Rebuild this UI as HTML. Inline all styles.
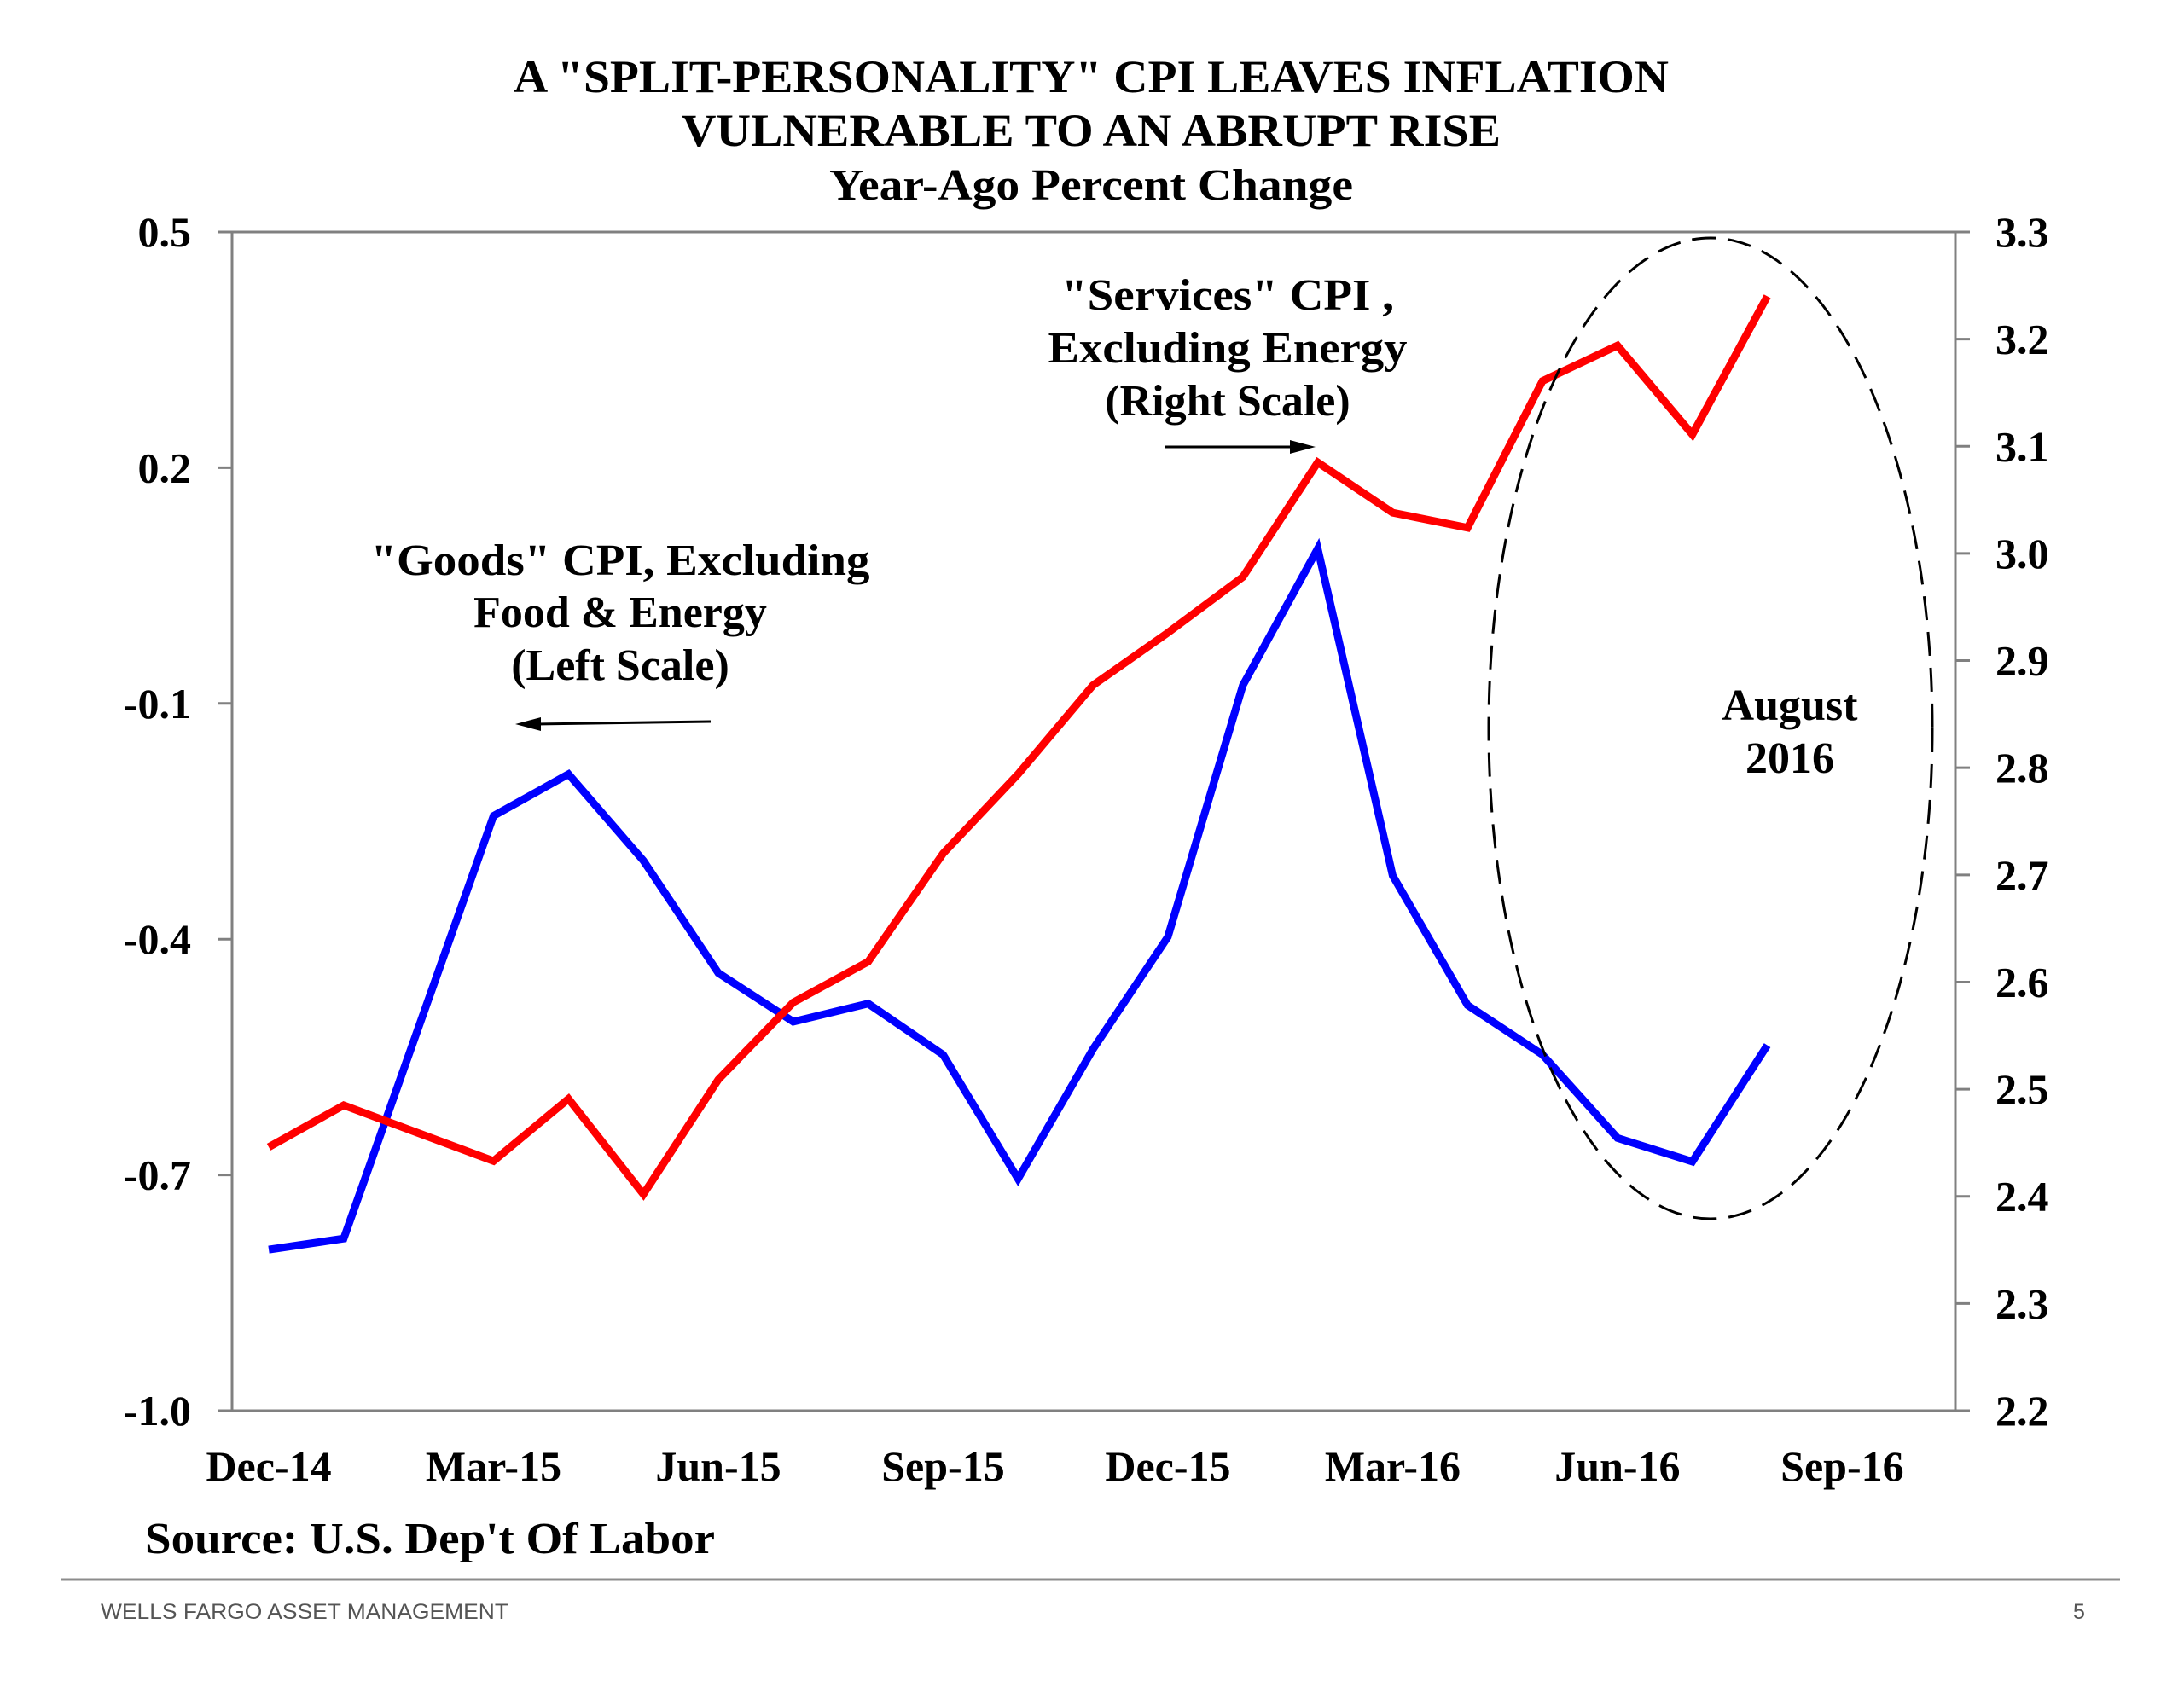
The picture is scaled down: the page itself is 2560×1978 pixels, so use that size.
<!DOCTYPE html>
<html><head><meta charset="utf-8"><style>
html,body{margin:0;padding:0;background:#fff;}
svg{display:block;}
.t{font-family:"Liberation Serif",serif;font-weight:bold;fill:#000;}
</style></head><body>
<svg width="2560" height="1978" viewBox="0 0 2560 1978">
<g>
<text class="t" x="1279" y="108" font-size="54" text-anchor="middle" textLength="1354" lengthAdjust="spacingAndGlyphs">A "SPLIT-PERSONALITY" CPI LEAVES INFLATION</text>
<text class="t" x="1279" y="171" font-size="54" text-anchor="middle" textLength="960" lengthAdjust="spacingAndGlyphs">VULNERABLE  TO AN ABRUPT RISE</text>
<text class="t" x="1279" y="234" font-size="52" text-anchor="middle" textLength="614" lengthAdjust="spacingAndGlyphs">Year-Ago Percent Change</text>
</g>
<rect x="272" y="272" width="2020" height="1382" fill="none" stroke="#808080" stroke-width="3"/>
<g id="leftAxis"></g>
<g id="rightAxis"></g>
<g id="xAxis"></g>
<g id="series"></g>
<ellipse cx="2005" cy="854" rx="260" ry="575" fill="none" stroke="#000" stroke-width="3" stroke-dasharray="28,14"/>
<g>
<text class="t" x="727" y="674" font-size="52" text-anchor="middle" textLength="585" lengthAdjust="spacingAndGlyphs">"Goods" CPI, Excluding</text>
<text class="t" x="727" y="735" font-size="52" text-anchor="middle">Food &amp; Energy</text>
<text class="t" x="727" y="797" font-size="52" text-anchor="middle">(Left Scale)</text>
<line x1="833" y1="846" x2="630" y2="849" stroke="#000" stroke-width="3"/>
<polygon points="604,849 634,841 634,857" fill="#000"/>
</g>
<g>
<text class="t" x="1439" y="363" font-size="52" text-anchor="middle" textLength="390" lengthAdjust="spacingAndGlyphs">"Services" CPI ,</text>
<text class="t" x="1439" y="425" font-size="52" text-anchor="middle" textLength="421" lengthAdjust="spacingAndGlyphs">Excluding Energy</text>
<text class="t" x="1439" y="487" font-size="52" text-anchor="middle">(Right Scale)</text>
<line x1="1365" y1="524" x2="1515" y2="524" stroke="#000" stroke-width="3"/>
<polygon points="1542,524 1512,516 1512,532" fill="#000"/>
</g>
<g>
<text class="t" x="2098" y="844" font-size="52" text-anchor="middle">August</text>
<text class="t" x="2098" y="906" font-size="52" text-anchor="middle">2016</text>
</g>
<text class="t" x="170" y="1821" font-size="52" textLength="668" lengthAdjust="spacingAndGlyphs">Source: U.S. Dep't Of Labor</text>
<line x1="72" y1="1852" x2="2485" y2="1852" stroke="#8c8c8c" stroke-width="3"/>
<text x="118" y="1898" font-size="25" fill="#555" font-family="'Liberation Sans',sans-serif" textLength="478" lengthAdjust="spacingAndGlyphs">WELLS FARGO ASSET MANAGEMENT</text>
<text x="2430" y="1898" font-size="25" fill="#555" font-family="'Liberation Sans',sans-serif">5</text>
</svg>
<script>
const months = ["Dec-14","Jan-15","Feb-15","Mar-15","Apr-15","May-15","Jun-15","Jul-15","Aug-15","Sep-15","Oct-15","Nov-15","Dec-15","Jan-16","Feb-16","Mar-16","Apr-16","May-16","Jun-16","Jul-16","Aug-16"];
const goodsCPI = [-0.795,-0.781,-0.512,-0.243,-0.19,-0.30,-0.443,-0.505,-0.482,-0.547,-0.705,-0.540,-0.397,-0.077,0.097,-0.319,-0.484,-0.547,-0.653,-0.683,-0.535];
const servicesCPI = [2.446,2.485,2.459,2.433,2.491,2.402,2.509,2.581,2.619,2.720,2.794,2.877,2.926,2.978,3.085,3.038,3.024,3.161,3.194,3.111,3.240];
const leftTicks = [0.5,0.2,-0.1,-0.4,-0.7,-1.0];
const rightTicks = [3.3,3.2,3.1,3.0,2.9,2.8,2.7,2.6,2.5,2.4,2.3,2.2];
const xTickLabels = ["Dec-14","Mar-15","Jun-15","Sep-15","Dec-15","Mar-16","Jun-16","Sep-16"];
const xTickIndex = [0,3,6,9,12,15,18,21];

const NS="http://www.w3.org/2000/svg";
const X0=272,X1=2292,Y0=272,Y1=1654;
const xs=i=>X0+(i+0.49)/23*(X1-X0);
const yl=v=>Y1-(v-(-1.0))/1.5*(Y1-Y0);
const yr=v=>Y1-(v-2.2)/1.1*(Y1-Y0);
function mk(tag,attrs,parent,txt){const e=document.createElementNS(NS,tag);for(const k in attrs)e.setAttribute(k,attrs[k]);if(txt!==undefined)e.textContent=txt;parent.appendChild(e);return e;}
const la=document.getElementById('leftAxis'),ra=document.getElementById('rightAxis'),xa=document.getElementById('xAxis'),sg=document.getElementById('series');
leftTicks.forEach(v=>{
  const y=yl(v);
  const l=mk('line',{x1:255,y1:y,x2:X0,y2:y,stroke:'#808080','stroke-width':3},la);
  
  
  const t=mk('text',{x:224,y:y+17,'text-anchor':'end','font-size':50,class:'t'},la,v.toFixed(1));
  
  
});
rightTicks.forEach(v=>{
  const y=yr(v);
  const l=mk('line',{x1:X1,y1:y,x2:X1+17,y2:y,stroke:'#808080','stroke-width':3},ra);
  
  
  const t=mk('text',{x:2339,y:y+17,'font-size':50,class:'t'},ra,v.toFixed(1));
  
  
});
xTickLabels.forEach((s,k)=>{
  const t=mk('text',{x:xs(xTickIndex[k]),y:1736,'text-anchor':'middle','font-size':50,class:'t'},xa,s);
  
  
});
const gp=mk('polyline',{points:goodsCPI.map((v,i)=>xs(i)+','+yl(v)).join(' '),fill:'none',stroke:'#0000ff','stroke-width':9,'stroke-linejoin':'miter'},sg);


const rp=mk('polyline',{points:servicesCPI.map((v,i)=>xs(i)+','+yr(v)).join(' '),fill:'none',stroke:'#ff0000','stroke-width':9,'stroke-linejoin':'miter'},sg);


</script>
</body></html>
